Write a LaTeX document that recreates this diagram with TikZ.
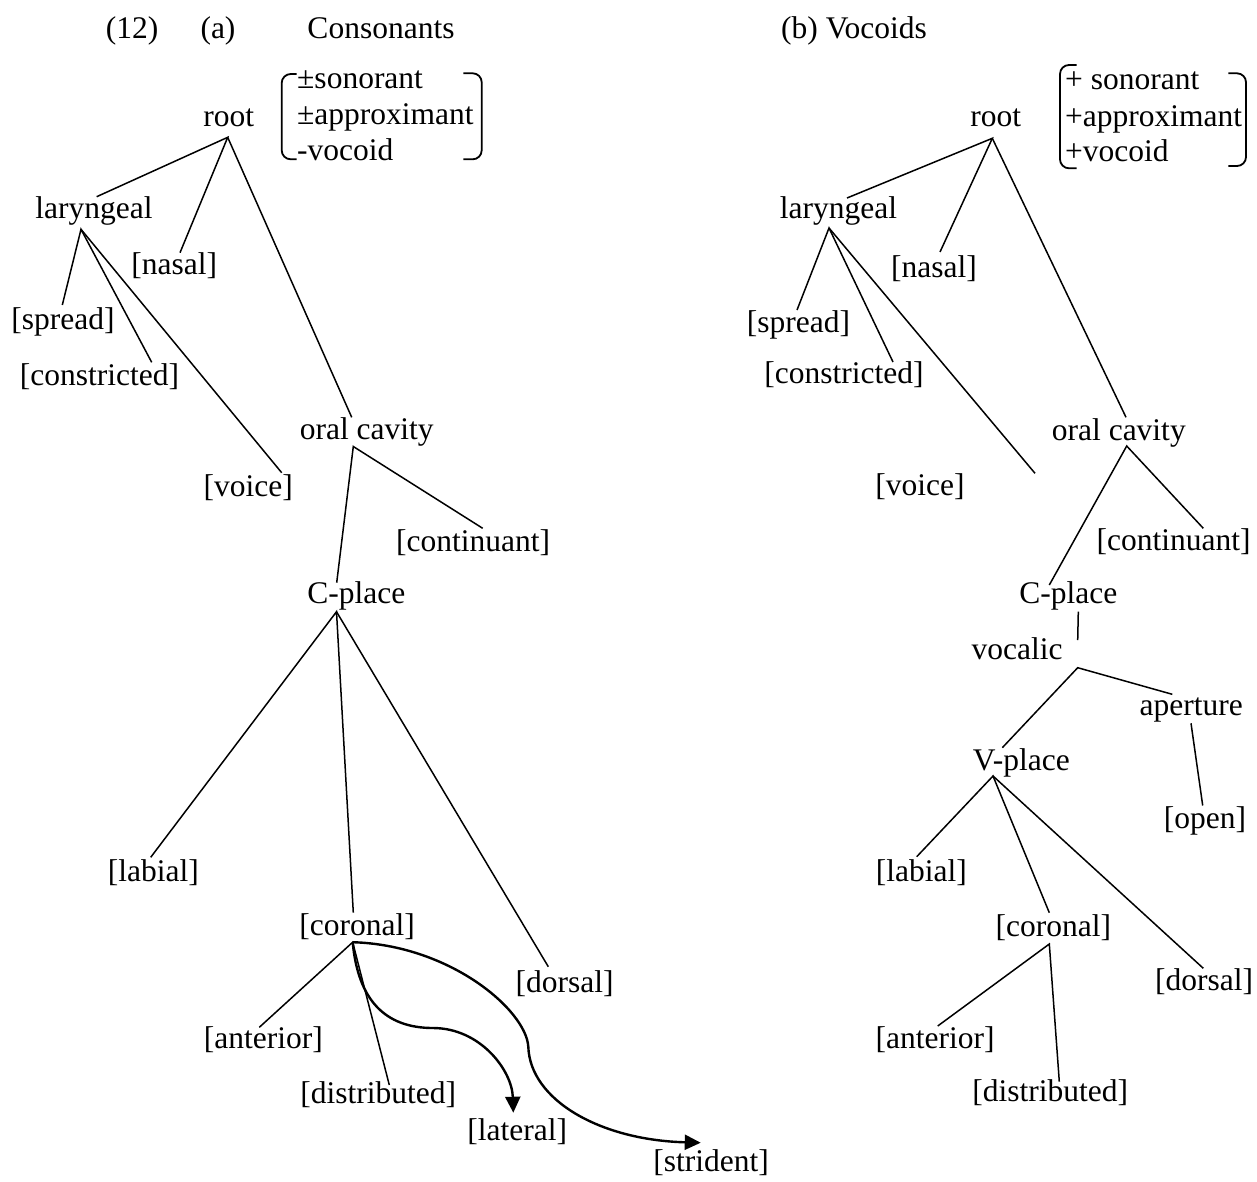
\documentclass[tikz,border=0pt]{standalone}
\usepackage{fontspec}
\setmainfont{Liberation Serif}
\usetikzlibrary{arrows.meta}
\begin{document}
\begin{tikzpicture}[x=1pt,y=-1pt,
  lbl/.style={inner sep=0pt, anchor=base, font=\fontsize{31.5}{36}\selectfont},
  lblw/.style={lbl, anchor=base west},
  edge/.style={line width=1.5pt},
  arr/.style={line width=2.4pt, -{Triangle[length=16pt,width=15pt]}},
  brk/.style={line width=1.8pt, rounded corners=9pt}]
\useasboundingbox (0,0) rectangle (1257,1181);

% ---------- titles ----------
\node[lbl] (t12) at (132,38) {(12)};
\node[lbl] (ta) at (218,38) {(a)};
\node[lbl] (tcons) at (381,38) {Consonants};
\node[lbl] (tb) at (854,38) {(b) Vocoids};

% ---------- (a) Consonants ----------
\node[lbl] (rootA) at (228.7,126.7) {root};
\node[lblw] (fA1) at (297,88) {±sonorant};
\node[lblw] (fA2) at (297,124) {±approximant};
\node[lblw] (fA3) at (297,160) {-vocoid};
\draw[brk] (296.7,74) -- (281.7,74) -- (281.7,159.3) -- (296.7,159.3);
\draw[brk] (463.3,73.3) -- (481.7,73.3) -- (481.7,159.3) -- (463.3,159.3);

\node[lbl] (larA) at (93.9,218) {laryngeal};
\node[lbl] (nasA) at (174.3,274.3) {[nasal]};
\node[lbl] (sprA) at (62.9,329) {[spread]};
\node[lbl] (conA) at (99.5,385) {[constricted]};
\node[lbl] (voiA) at (248.3,496.7) {[voice]};
\node[lbl] (oraA) at (366.7,439) {oral cavity};
\node[lbl] (cntA) at (473,551.7) {[continuant]};
\node[lbl] (cplA) at (356.3,603.3) {C-place};
\node[lbl] (labA) at (153.3,881.7) {[labial]};
\node[lbl] (corA) at (357.2,935.5) {[coronal]};
\node[lbl] (dorA) at (564.7,992) {[dorsal]};
\node[lbl] (antA) at (263.3,1048.3) {[anterior]};
\node[lbl] (disA) at (378.2,1103.3) {[distributed]};
\node[lbl] (latA) at (517.2,1140) {[lateral]};
\node[lbl] (strA) at (711,1171) {[strident]};

\coordinate (rA) at (227.7,137.3);
\coordinate (lAt) at (96.7,196.7);
\coordinate (nAt) at (180,252.7);
\coordinate (oAt) at (351.7,417.3);
\coordinate (lA) at (81,229.3);
\coordinate (sAt) at (62.3,305);
\coordinate (cAt) at (151.7,362.3);
\coordinate (vAt) at (281.7,472.7);
\coordinate (oA) at (353.3,446.5);
\coordinate (cpAt) at (336.7,582.7);
\coordinate (ctAt) at (482.7,528.3);
\coordinate (cpA) at (336.5,611.7);
\coordinate (lbAt) at (150.7,857.3);
\coordinate (crAt) at (353.3,912.7);
\coordinate (dAt) at (548.3,966.7);
\coordinate (crA) at (352.7,942.2);
\coordinate (anAt) at (259.3,1027.3);
\coordinate (dsAt) at (389.3,1085);
\coordinate (latMid) at (433,1028);
\coordinate (latTip) at (513.3,1112.7);
\coordinate (strMid) at (528.3,1046.7);
\coordinate (strTip) at (700.7,1142.7);

\draw[edge] (lAt) -- (rA) -- (nAt);
\draw[edge] (rA) -- (oAt);
\draw[edge] (sAt) -- (lA) -- (cAt);
\draw[edge] (lA) -- (vAt);
\draw[edge] (cpAt) -- (oA) -- (ctAt);
\draw[edge] (lbAt) -- (cpA) -- (crAt);
\draw[edge] (cpA) -- (dAt);
\draw[edge] (anAt) -- (crA) -- (dsAt);
\draw[arr] (crA) .. controls (358,1000) and (385,1028) .. (latMid)
           .. controls (480,1028) and (512,1070) .. (latTip);
\draw[arr] (crA) .. controls (450,945) and (526,1010) .. (strMid)
           .. controls (530,1100) and (600,1140) .. (strTip);

% ---------- (b) Vocoids ----------
\node[lbl] (rootB) at (995.8,126.7) {root};
\node[lblw] (fB1) at (1065,89) {+ sonorant};
\node[lblw] (fB2) at (1065,126) {+approximant};
\node[lblw] (fB3) at (1065,161) {+vocoid};
\draw[brk] (1076.7,65) -- (1060,65) -- (1060,168.3) -- (1076.7,168.3);
\draw[brk] (1228.3,73.3) -- (1246,73.3) -- (1246,166) -- (1228.3,166);

\node[lbl] (larB) at (838.5,218) {laryngeal};
\node[lbl] (nasB) at (934,277) {[nasal]};
\node[lbl] (sprB) at (798.5,332) {[spread]};
\node[lbl] (conB) at (844,383) {[constricted]};
\node[lbl] (voiB) at (920,495) {[voice]};
\node[lbl] (oraB) at (1118.8,440) {oral cavity};
\node[lbl] (cntB) at (1173.7,550) {[continuant]};
\node[lbl] (cplB) at (1068.3,603.3) {C-place};
\node[lbl] (vocB) at (1017.2,659.3) {vocalic};
\node[lbl] (aptB) at (1191.3,715) {aperture};
\node[lbl] (vplB) at (1021.3,770.7) {V-place};
\node[lbl] (opnB) at (1205,828.3) {[open]};
\node[lbl] (labB) at (921.3,881.7) {[labial]};
\node[lbl] (corB) at (1053.3,936.7) {[coronal]};
\node[lbl] (dorB) at (1204.2,990) {[dorsal]};
\node[lbl] (antB) at (935,1048.3) {[anterior]};
\node[lbl] (disB) at (1050.3,1101.7) {[distributed]};

\coordinate (rB) at (992.3,138.3);
\coordinate (lBt) at (847,198);
\coordinate (nBt) at (940,252);
\coordinate (oBt) at (1126,417.3);
\coordinate (lB) at (829,228);
\coordinate (sBt) at (797,310);
\coordinate (cBt) at (893,362);
\coordinate (vBt) at (1035,473.3);
\coordinate (oB) at (1126.7,446);
\coordinate (cpBt) at (1049.3,585);
\coordinate (ctBt) at (1203.3,528.3);
\coordinate (cpB) at (1078.3,611.7);
\coordinate (vcBt) at (1077.7,640);
\coordinate (vcB) at (1077.7,667.7);
\coordinate (apBt) at (1172.3,694.3);
\coordinate (vpBt) at (1002.3,747.7);
\coordinate (apB) at (1191,723.3);
\coordinate (opBt) at (1202.7,805.5);
\coordinate (vpB) at (993,776);
\coordinate (lbBt) at (916.7,856.7);
\coordinate (crBt) at (1049.3,912.7);
\coordinate (dBt) at (1203.3,968.3);
\coordinate (crB) at (1049.3,944);
\coordinate (anBt) at (937.7,1026);
\coordinate (dsBt) at (1059.3,1081.7);

\draw[edge] (lBt) -- (rB) -- (nBt);
\draw[edge] (rB) -- (oBt);
\draw[edge] (sBt) -- (lB) -- (cBt);
\draw[edge] (lB) -- (vBt);
\draw[edge] (cpBt) -- (oB) -- (ctBt);
\draw[edge] (cpB) -- (vcBt);
\draw[edge] (vpBt) -- (vcB) -- (apBt);
\draw[edge] (apB) -- (opBt);
\draw[edge] (lbBt) -- (vpB) -- (crBt);
\draw[edge] (vpB) -- (dBt);
\draw[edge] (anBt) -- (crB) -- (dsBt);
\end{tikzpicture}
\end{document}
